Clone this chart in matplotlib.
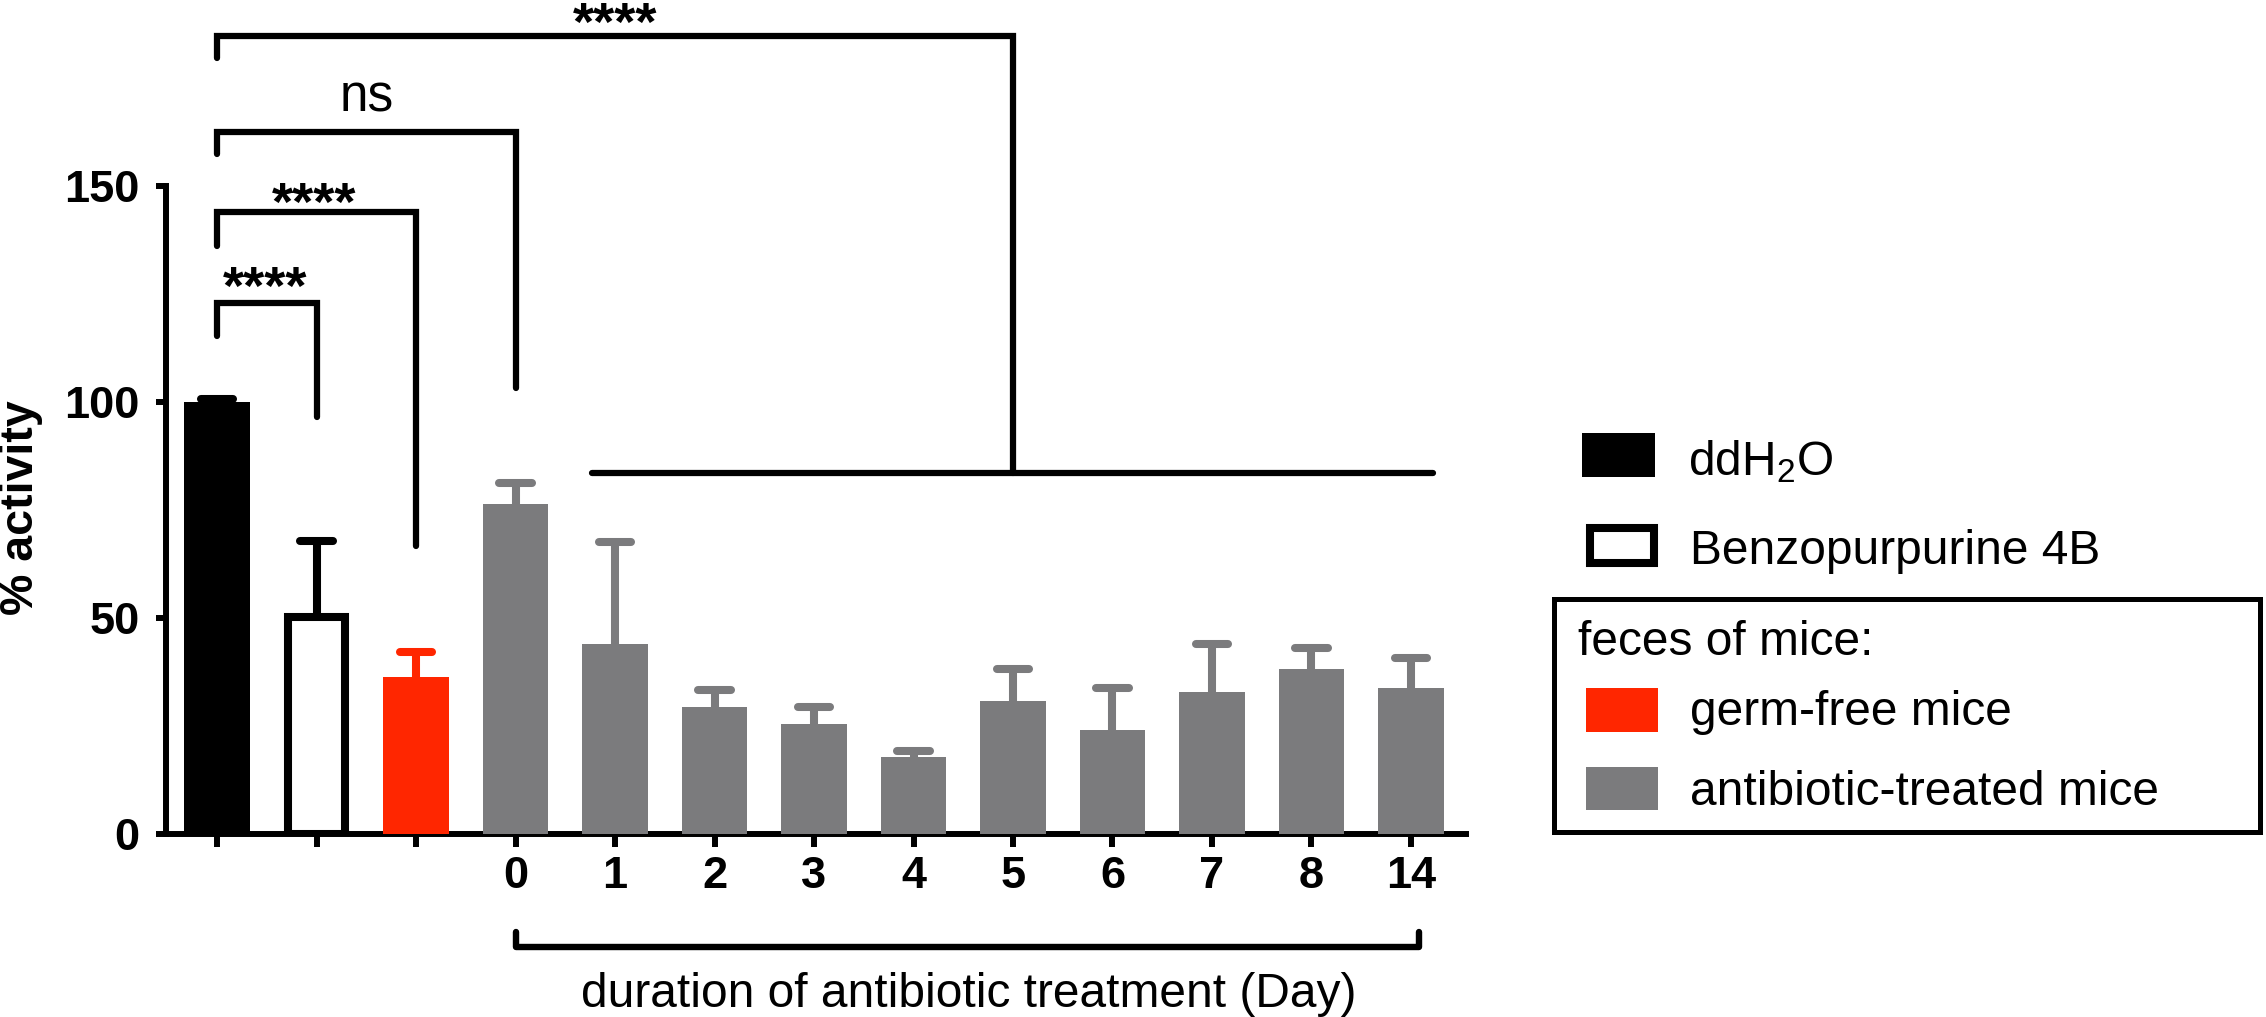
import matplotlib
matplotlib.use('Agg')
import matplotlib.pyplot as plt
from matplotlib.patches import Rectangle

plt.rcParams['font.family'] = ['Liberation Sans', 'DejaVu Sans']
plt.rcParams['mathtext.fontset'] = 'custom'
plt.rcParams['mathtext.rm'] = 'Liberation Sans'

# ---------------- data ----------------
groups = ['ddH2O', 'Benzopurpurine 4B', 'germ-free mice',
          'day 0', 'day 1', 'day 2', 'day 3', 'day 4', 'day 5',
          'day 6', 'day 7', 'day 8', 'day 14']
tick_labels = ['', '', '', '0', '1', '2', '3', '4', '5', '6', '7', '8', '14']
means = [100.0, 50.2, 36.4, 76.5, 44.0, 29.5, 25.5, 17.8, 30.8, 24.0, 32.9, 38.1, 33.9]
err_upper = [0.6, 17.6, 5.8, 4.8, 23.5, 3.8, 4.0, 1.5, 7.3, 9.9, 11.1, 4.9, 6.8]
kinds = ['water', 'benzo', 'germfree'] + ['abx'] * 10

comp_pairs = [(0, 1), (0, 2), (0, 3), (0, 8)]
comp_labels = ['****', '****', 'ns', '****']

legend_top_labels = ['ddH$_{\\mathregular{2}}$O', 'Benzopurpurine 4B']
legend_box_title = 'feces of mice:'
legend_box_labels = ['germ-free mice', 'antibiotic-treated mice']
xlabel = 'duration of antibiotic treatment (Day)'
ylabel = '% activity'

# ---------------- styles ----------------
fill = {'water': 'black', 'benzo': 'white', 'germfree': '#ff2600', 'abx': '#7b7b7d'}
errc = {'water': 'black', 'benzo': 'black', 'germfree': '#ff2600', 'abx': '#7b7b7d'}

W, H = 2266, 1017
fig = plt.figure(figsize=(W / 100, H / 100), dpi=100)
ax = fig.add_axes([166 / W, 1 - 834 / H, 1300 / W, 648 / H])

x = list(range(len(means)))
BW = 0.66
LW_ERR = 5.8
for i, (m, e, k) in enumerate(zip(means, err_upper, kinds)):
    c = errc[k]
    ax.vlines(i, m, m + e, colors=c, linewidth=LW_ERR, zorder=2)
    ax.hlines(m + e, i - 0.165, i + 0.165, colors=c, linewidth=LW_ERR,
              capstyle='round', zorder=2)
    if k == 'benzo':
        ax.bar(i, m, width=BW - 0.08, color='white', edgecolor='black',
               linewidth=5.8, zorder=3)
    else:
        ax.bar(i, m, width=BW, color=fill[k], edgecolor='none', zorder=3)

ax.set_xlim(-0.513, 12.553)
ax.set_ylim(0, 150)
ax.set_yticks([0, 50, 100, 150])
ax.set_xticks(x)
ax.set_xticklabels(tick_labels)
for s in ['top', 'right']:
    ax.spines[s].set_visible(False)
for s in ['left', 'bottom']:
    ax.spines[s].set_linewidth(4.3)
ax.tick_params(axis='y', length=7, width=4.3, pad=12, labelsize=32.5)
ax.tick_params(axis='x', length=9, width=4.3, pad=7, labelsize=32.5)
for lab in ax.get_xticklabels() + ax.get_yticklabels():
    lab.set_fontweight('bold')

# ---------------- significance brackets ----------------
LW_BR = 4.5
br_y = [123.0, 143.9, 162.4, 184.7]
br_left_bottom = [115.3, 136.0, 157.5, 179.6]
br_right_bottom = [96.5, 66.6, 103.2, 83.5]
txt_x = [0.48, 0.98, 1.5, 4.0]
txt_y = [122.6, 142.2, 167.3, 183.8]
for (a, b), lab, y, lb, rb, tx, ty in zip(comp_pairs, comp_labels, br_y,
                                          br_left_bottom, br_right_bottom, txt_x, txt_y):
    ax.plot([a, a, b, b], [lb, y, y, rb], color='black', linewidth=LW_BR,
            solid_capstyle='round', solid_joinstyle='miter', clip_on=False, zorder=4)
    if lab == 'ns':
        ax.text(tx, ty, lab, ha='center', va='baseline', fontsize=37, clip_on=False)
    else:
        ax.text(tx, ty, lab, ha='center', va='baseline', fontsize=39,
                fontweight='bold', clip_on=False)
# group line for antibiotic-treated days
ax.plot([3.77, 12.22], [83.5, 83.5], color='black', linewidth=LW_BR,
        solid_capstyle='round', clip_on=False, zorder=4)

# bracket under the day ticks
ax.plot([3.0, 3.0, 12.08, 12.08], [-22.7, -26.2, -26.2, -22.7], color='black',
        linewidth=4.6, solid_capstyle='round', clip_on=False)
ax.text(7.56, -40.1, xlabel, ha='center', va='baseline', fontsize=34.5, clip_on=False)

fig.text(21 / W, 1 - 508 / H, ylabel, rotation=90, ha='center', va='center',
         fontsize=33.5, fontweight='bold')

# ---------------- legend (drawn manually) ----------------
def frect(x0, y0, x1, y1, **kw):
    r = Rectangle((x0 / W, 1 - y1 / H), (x1 - x0) / W, (y1 - y0) / H,
                  transform=fig.transFigure, **kw)
    fig.add_artist(r)

def ftext(xp, yp, s, **kw):
    fig.text(xp / W, 1 - yp / H, s, va='baseline', ha='left', fontsize=34.5, **kw)

frect(1582, 433, 1655, 477, facecolor='black', edgecolor='none')
ftext(1688, 475, legend_top_labels[0])
frect(1590, 528, 1654, 563, facecolor='white', edgecolor='black', linewidth=5.8)
ftext(1690, 564, legend_top_labels[1])

frect(1554, 599, 2260, 832, facecolor='none', edgecolor='black', linewidth=3.6)
ftext(1578, 655, legend_box_title)
frect(1586, 688, 1658, 732, facecolor=fill['germfree'], edgecolor='none')
ftext(1690, 725, legend_box_labels[0])
frect(1586, 767, 1658, 810, facecolor=fill['abx'], edgecolor='none')
ftext(1690, 805, legend_box_labels[1])

fig.savefig('out.png', dpi=100, facecolor='white')
